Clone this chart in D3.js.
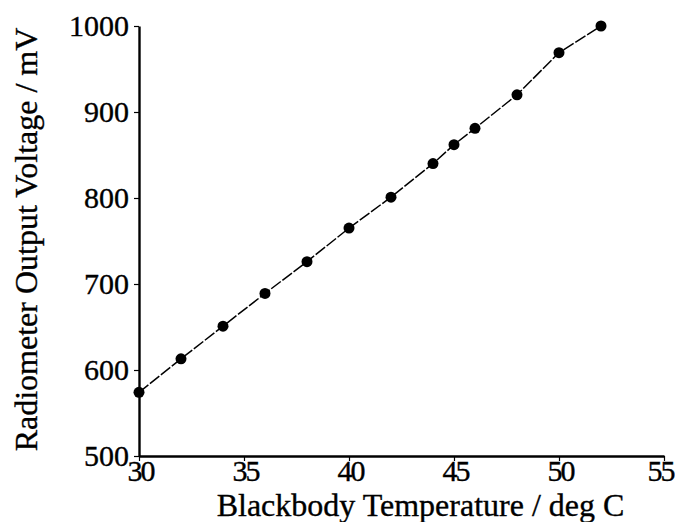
<!DOCTYPE html>
<html>
<head>
<meta charset="utf-8">
<script src="https://cdn.jsdelivr.net/npm/d3@7"></script>
<style>
  html, body { margin: 0; padding: 0; background: #fff; }
  svg { display: block; }
  text { font-family: "Liberation Serif", "Times New Roman", serif; fill: #000; stroke: #000; stroke-width: 0.35px; }
</style>
</head>
<body>
<svg id="chart" width="675" height="522"></svg>
<script>
const temperatures = [30, 32, 34, 36, 38, 40, 42, 44, 45, 46, 48, 50, 52];
const voltages = [574, 613, 651, 689, 726, 765, 801, 840, 862, 881, 920, 969, 1000];
const xTicks = [30, 35, 40, 45, 50, 55];
const yTicks = [500, 600, 700, 800, 900, 1000];
const xTitle = "Blackbody Temperature / deg C";
const yTitle = "Radiometer Output Voltage / mV";

const svg = d3.select("#chart");
const mLeft = 139, mRight = 664, mTop = 26, mBottom = 456;

const x = d3.scaleLinear().domain([30, 55]).range([mLeft, mRight]);
const y = d3.scaleLinear().domain([500, 1000]).range([mBottom, mTop]);

const xAxis = svg.append("g").attr("transform", `translate(0,${mBottom})`)
  .call(d3.axisBottom(x).tickValues(xTicks).tickSizeInner(5).tickSizeOuter(0).tickPadding(-1).tickFormat(d3.format("d")));
const yAxis = svg.append("g").attr("transform", `translate(${mLeft},0)`)
  .call(d3.axisLeft(y).tickValues(yTicks).tickSizeInner(5).tickSizeOuter(0).tickPadding(5).tickFormat(d3.format("d")));

[xAxis, yAxis].forEach(g => {
  g.select(".domain").attr("stroke", "#000").attr("stroke-width", 2.4);
  g.selectAll(".tick line").attr("stroke", "#000").attr("stroke-width", 1.2);
  g.selectAll(".tick text").attr("font-family", "Liberation Serif, serif")
    .attr("font-size", 30).attr("fill", "#000");
});
xAxis.selectAll(".tick text").attr("letter-spacing", -2)
  .attr("dx", (d, i, n) => i === n.length - 1 ? -4 : 1);

const data = temperatures.map((t, i) => ({t, v: voltages[i]}));

svg.append("path")
  .datum(data)
  .attr("fill", "none")
  .attr("stroke", "#000")
  .attr("stroke-width", 1.5)
  .attr("stroke-dasharray", "12,2")
  .attr("d", d3.line().x(d => x(d.t)).y(d => y(d.v)));

svg.append("g").selectAll("circle")
  .data(data)
  .join("circle")
  .attr("cx", d => x(d.t))
  .attr("cy", d => y(d.v))
  .attr("r", 5.5)
  .attr("fill", "#000");

svg.append("text")
  .attr("x", (219 + 622) / 2)
  .attr("y", 516)
  .attr("text-anchor", "middle")
  .attr("font-size", 32)
  .text(xTitle);

svg.append("text")
  .attr("transform", `translate(37,${(27 + 452) / 2}) rotate(-90)`)
  .attr("text-anchor", "middle")
  .attr("font-size", 32)
  .text(yTitle);
</script>
</body>
</html>
